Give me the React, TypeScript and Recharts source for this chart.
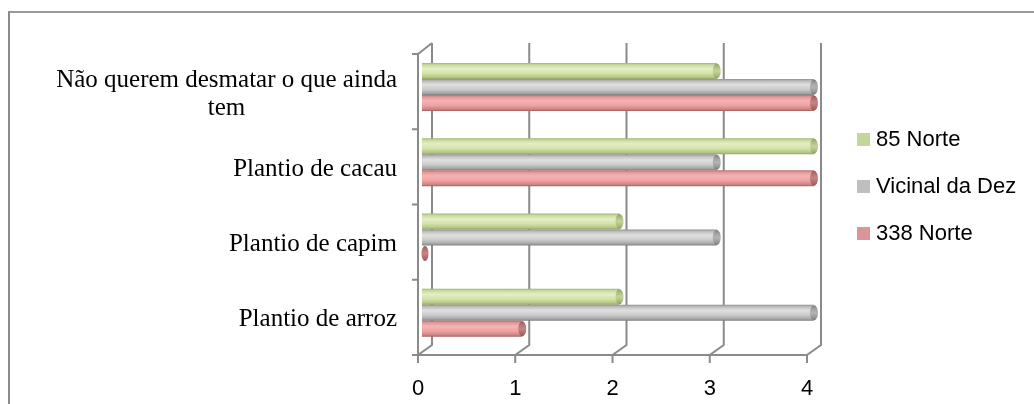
import { BarChart, Bar, XAxis, YAxis, CartesianGrid } from 'recharts'

// categories top to bottom, one value per category for each road
const categories = ['Não querem desmatar o que ainda tem', 'Plantio de cacau', 'Plantio de capim', 'Plantio de arroz']
const norte85 = [3, 4, 2, 2]
const vicinalDaDez = [4, 3, 3, 4]
const norte338 = [4, 4, 0, 1]
const xTicks = [0, 1, 2, 3, 4]

const series = [
    {
        key: 'norte85',
        name: '85 Norte',
        values: norte85,
        swatch: '#c3d69b',
        body: ['#9fb274', '#c9da9d', '#e4efc4', '#d3e2a8', '#b2c583', '#8ea262'],
        cap: ['#8fa263', '#aec182', '#c3d49a', '#a9bc7c', '#8a9c5e'],
    },
    {
        key: 'vicinalDaDez',
        name: 'Vicinal da Dez',
        values: vicinalDaDez,
        swatch: '#bfbfbf',
        body: ['#8f8f8f', '#bcbcbc', '#e0e0e0', '#cbcbcb', '#a3a3a3', '#7d7d7d'],
        cap: ['#7e7e7e', '#a2a2a2', '#b4b4b4', '#999999', '#777777'],
    },
    {
        key: 'norte338',
        name: '338 Norte',
        values: norte338,
        swatch: '#d99694',
        body: ['#b56d6d', '#e39797', '#f6b3b3', '#eea2a2', '#c98282', '#a05d5d'],
        cap: ['#9c5a5a', '#b87373', '#c88383', '#ad6a6a', '#945555'],
    },
]

const data = categories.map((category, i) => {
    const row: any = { category }
    series.forEach((s) => { row[s.key] = s.values[i] })
    return row
})

// pseudo-3D depth: front wall sits down-left of the bars, back wall up-right
const DX = 7
const DY = 5
const GRID = '#8a8a8a'
const LABEL_SIZE = 25
const LABEL_FONT = '"Liberation Serif", "Times New Roman", serif'
const SANS = '"Liberation Sans", Arial, sans-serif'

let ctx: CanvasRenderingContext2D | null = null
const measure = (text: string) => {
    if (!ctx) ctx = document.createElement('canvas').getContext('2d')
    if (!ctx) return text.length * LABEL_SIZE * 0.45
    ctx.font = `${LABEL_SIZE}px ${LABEL_FONT}`
    return ctx.measureText(text).width
}

const wrap = (text: string, max: number) => {
    const lines: string[] = []
    let cur = ''
    text.split(' ').forEach((w) => {
        const next = cur ? cur + ' ' + w : w
        if (cur && measure(next) > max) {
            lines.push(cur)
            cur = w
        } else {
            cur = next
        }
    })
    if (cur) lines.push(cur)
    return lines
}

const CategoryTick = ({ x, y, payload }: any) => {
    const lines = wrap(payload.value, 360)
    const widest = Math.max(...lines.map(measure))
    const cx = x - 28 - widest / 2
    const first = y + 14 - (lines.length - 1) * 14
    return (
        <g>
            {lines.map((l, i) => (
                <text key={i} x={cx} y={first + i * 28} textAnchor="middle" fontFamily={LABEL_FONT} fontSize={LABEL_SIZE} fill="#000">
                    {l}
                </text>
            ))}
        </g>
    )
}

const ValueTick = ({ x, y, payload }: any) => (
    <text x={x - DX} y={y + 45} textAnchor="middle" fontFamily={SANS} fontSize={22} fill="#000">
        {payload.value}
    </text>
)

const Cylinder = (props: any) => {
    const { x, y, width, height, index, s } = props
    const id = `${s.key}-${index}`
    const end = x + width
    return (
        <g>
            <defs>
                <linearGradient id={`b-${id}`} x1="0" y1="0" x2="0" y2="1">
                    {s.body.map((c: string, i: number) => (
                        <stop key={i} offset={[0, 0.12, 0.35, 0.65, 0.9, 1][i]} stopColor={c} />
                    ))}
                </linearGradient>
                <linearGradient id={`c-${id}`} x1="0" y1="0" x2="0" y2="1">
                    {s.cap.map((c: string, i: number) => (
                        <stop key={i} offset={[0, 0.25, 0.5, 0.8, 1][i]} stopColor={c} />
                    ))}
                </linearGradient>
            </defs>
            {width > 0 && <rect x={x - 3} y={y} width={width + 3} height={height} fill={`url(#b-${id})`} />}
            <ellipse cx={end} cy={y + height / 2} rx={width > 0 ? 4 : 3.5} ry={height / 2 - 0.5} fill={`url(#c-${id})`} />
        </g>
    )
}

let plotBottom = 0

const VerticalLine = (p: any) => {
    const { x1, y1, y2, index } = p
    let d = `M${x1 + DX},${y1 - DY - 1} V${y2 - DY} L${x1 - DX},${y2 + DY} V${y2 + DY + 8}`
    if (index === 0) d += ` M${x1 - DX},${y1 + DY} V${y2 + DY} M${x1 - DX},${y1 + DY} L${x1 + DX},${y1 - DY - 1}`
    return <path key={p.key} d={d} stroke={GRID} strokeWidth={2} fill="none" />
}

const HorizontalLine = (p: any) => {
    const { x1, x2, y1 } = p
    let d = `M${x1 - DX - 6},${y1 + DY} H${x1 - DX}`
    if (Math.abs(y1 - plotBottom) < 0.5) d += ` H${x2 - DX}`
    return <path key={p.key} d={d} stroke={GRID} strokeWidth={2} fill="none" />
}

export default function App() {
    return (
        <div>
            <div style={{
                position: 'fixed', left: 8, top: 11, width: 1100, height: 500,
                borderTop: '2px solid #9a9a9a', borderLeft: '2px solid #8a8a8a',
            }} />
            <div style={{ position: 'fixed', left: 0, top: 0 }}>
                <BarChart
                    width={1034}
                    height={404}
                    data={data}
                    layout="vertical"
                    margin={{ top: 49, right: 220, bottom: 0, left: 0 }}
                    barGap={0}
                    barSize={16}
                >
                    <CartesianGrid
                        horizontalCoordinatesGenerator={({ offset }: any) => {
                            const band = offset.height / categories.length
                            plotBottom = offset.top + offset.height
                            return [...categories.map((_, i) => offset.top + i * band), plotBottom]
                        }}
                        horizontal={HorizontalLine}
                        vertical={VerticalLine}
                    />
                    <XAxis
                        type="number"
                        domain={[0, 4]}
                        ticks={xTicks}
                        interval={0}
                        axisLine={false}
                        tickLine={false}
                        tickSize={0}
                        tickMargin={0}
                        height={54}
                        tick={<ValueTick />}
                    />
                    <YAxis
                        type="category"
                        dataKey="category"
                        width={425}
                        axisLine={false}
                        tickLine={false}
                        tickSize={0}
                        tickMargin={0}
                        interval={0}
                        tick={<CategoryTick />}
                    />
                    {series.map((s) => (
                        <Bar
                            key={s.key}
                            dataKey={s.key}
                            name={s.name}
                            fill={s.swatch}
                            isAnimationActive={false}
                            shape={(p: any) => <Cylinder {...p} s={s} />}
                        />
                    ))}
                </BarChart>
            </div>
            <div style={{ position: 'fixed', left: 857, top: 115.5, fontFamily: SANS, fontSize: 22, color: '#000' }}>
                {series.map((s) => (
                    <div key={s.key} style={{ height: 47, display: 'flex', alignItems: 'center' }}>
                        <span style={{ display: 'inline-block', width: 13, height: 13, background: s.swatch, marginRight: 6 }} />
                        <span>{s.name}</span>
                    </div>
                ))}
            </div>
        </div>
    )
}
